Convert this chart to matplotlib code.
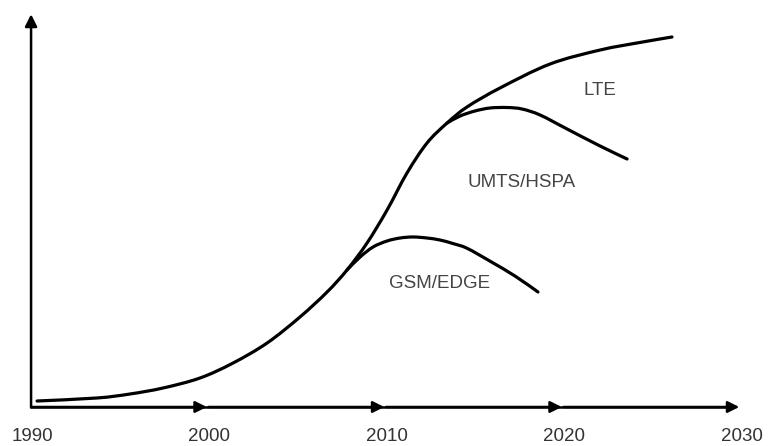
import matplotlib
matplotlib.use("Agg")
import matplotlib.pyplot as plt
from matplotlib.path import Path
from matplotlib.patches import PathPatch

plt.rcParams['font.family'] = ['Liberation Sans', 'DejaVu Sans']

# Data (year, relative value 0-100)
tick_years = [1990, 2000, 2010, 2020, 2030]
tick_labels = ["1990", "2000", "2010", "2020", "2030"]

total_years = [1990.34, 1993.72, 1995.58, 1997.44, 1999.52, 2001.38, 2003.30, 2005.15,
               2006.68, 2007.80, 2008.93, 2010.06, 2011.18, 2012.31, 2013.44, 2014.56,
               2016.42, 2019.24, 2022.06, 2024.31, 2026.11]
total_vals = [1.53, 2.30, 3.32, 4.85, 7.40, 11.22, 16.33, 22.96,
              29.34, 34.95, 41.84, 50.26, 59.69, 67.35, 72.45, 76.53,
              81.38, 87.50, 91.07, 93.00, 94.39]

gsm_years = [2007.80, 2008.54, 2009.27, 2010.06, 2010.79, 2011.52, 2012.31, 2013.04,
             2013.77, 2014.56, 2015.86, 2017.27, 2018.56]
gsm_vals = [34.95, 38.27, 40.82, 42.35, 43.11, 43.37, 43.11, 42.60,
            41.70, 40.50, 37.20, 33.40, 29.34]

umts_years = [2013.44, 2014.17, 2015.01, 2015.86, 2016.82, 2017.66, 2018.68, 2020.20,
              2022.06, 2023.58]
umts_vals = [72.45, 74.23, 75.51, 76.28, 76.40, 76.02, 74.49, 70.92, 66.58, 63.27]

labels = ["LTE", "UMTS/HSPA", "GSM/EDGE"]
label_pos = [(2022.05, 80.8), (2017.66, 57.2), (2013.04, 31.4)]


def smooth_path(xs, ys):
    """Catmull-Rom through the read points, drawn as cubic Bezier segments."""
    pts = list(zip(xs, ys))
    n = len(pts)
    verts = [pts[0]]
    codes = [Path.MOVETO]
    for i in range(n - 1):
        p0 = pts[i - 1] if i > 0 else pts[i]
        p1 = pts[i]
        p2 = pts[i + 1]
        p3 = pts[i + 2] if i + 2 < n else pts[i + 1]
        c1 = (p1[0] + (p2[0] - p0[0]) / 6.0, p1[1] + (p2[1] - p0[1]) / 6.0)
        c2 = (p2[0] - (p3[0] - p1[0]) / 6.0, p2[1] - (p3[1] - p1[1]) / 6.0)
        verts += [c1, c2, p2]
        codes += [Path.CURVE4] * 3
    return Path(verts, codes)


fig = plt.figure(figsize=(7.68, 4.46), dpi=100)
ax = fig.add_axes([0, 0, 1, 1])
ax.set_xlim(1988.25, 2031.52)
ax.set_ylim(-9.95, 103.83)
ax.axis('off')

# axes with arrows
ax.annotate('', xy=(1990, 100.2), xytext=(1990, 0),
            arrowprops=dict(arrowstyle='-|>', lw=1.8, color='black',
                            mutation_scale=18, shrinkA=0, shrinkB=0))
ax.plot([1990, 2029.5], [0, 0], color='black', lw=1.8)
for a, b in zip(tick_years[:-1], tick_years[1:]):
    ax.annotate('', xy=(b - 0.1, 0), xytext=(a, 0),
                arrowprops=dict(arrowstyle='-|>', lw=1.8, color='black',
                                mutation_scale=17, shrinkA=0, shrinkB=0))

for yr, lab in zip(tick_years, tick_labels):
    ax.text(yr + 0.05, -7.4, lab, ha='center', va='center', fontsize=13.5, color='#333333')

for xs, ys in [(total_years, total_vals), (gsm_years, gsm_vals), (umts_years, umts_vals)]:
    ax.add_patch(PathPatch(smooth_path(xs, ys), fill=False, edgecolor='black', lw=2.3,
                           capstyle='round', joinstyle='round'))

for lab, (x, y) in zip(labels, label_pos):
    ax.text(x, y, lab, ha='center', va='center', fontsize=13.5, color='#444444')

fig.savefig("out.png", dpi=100)
